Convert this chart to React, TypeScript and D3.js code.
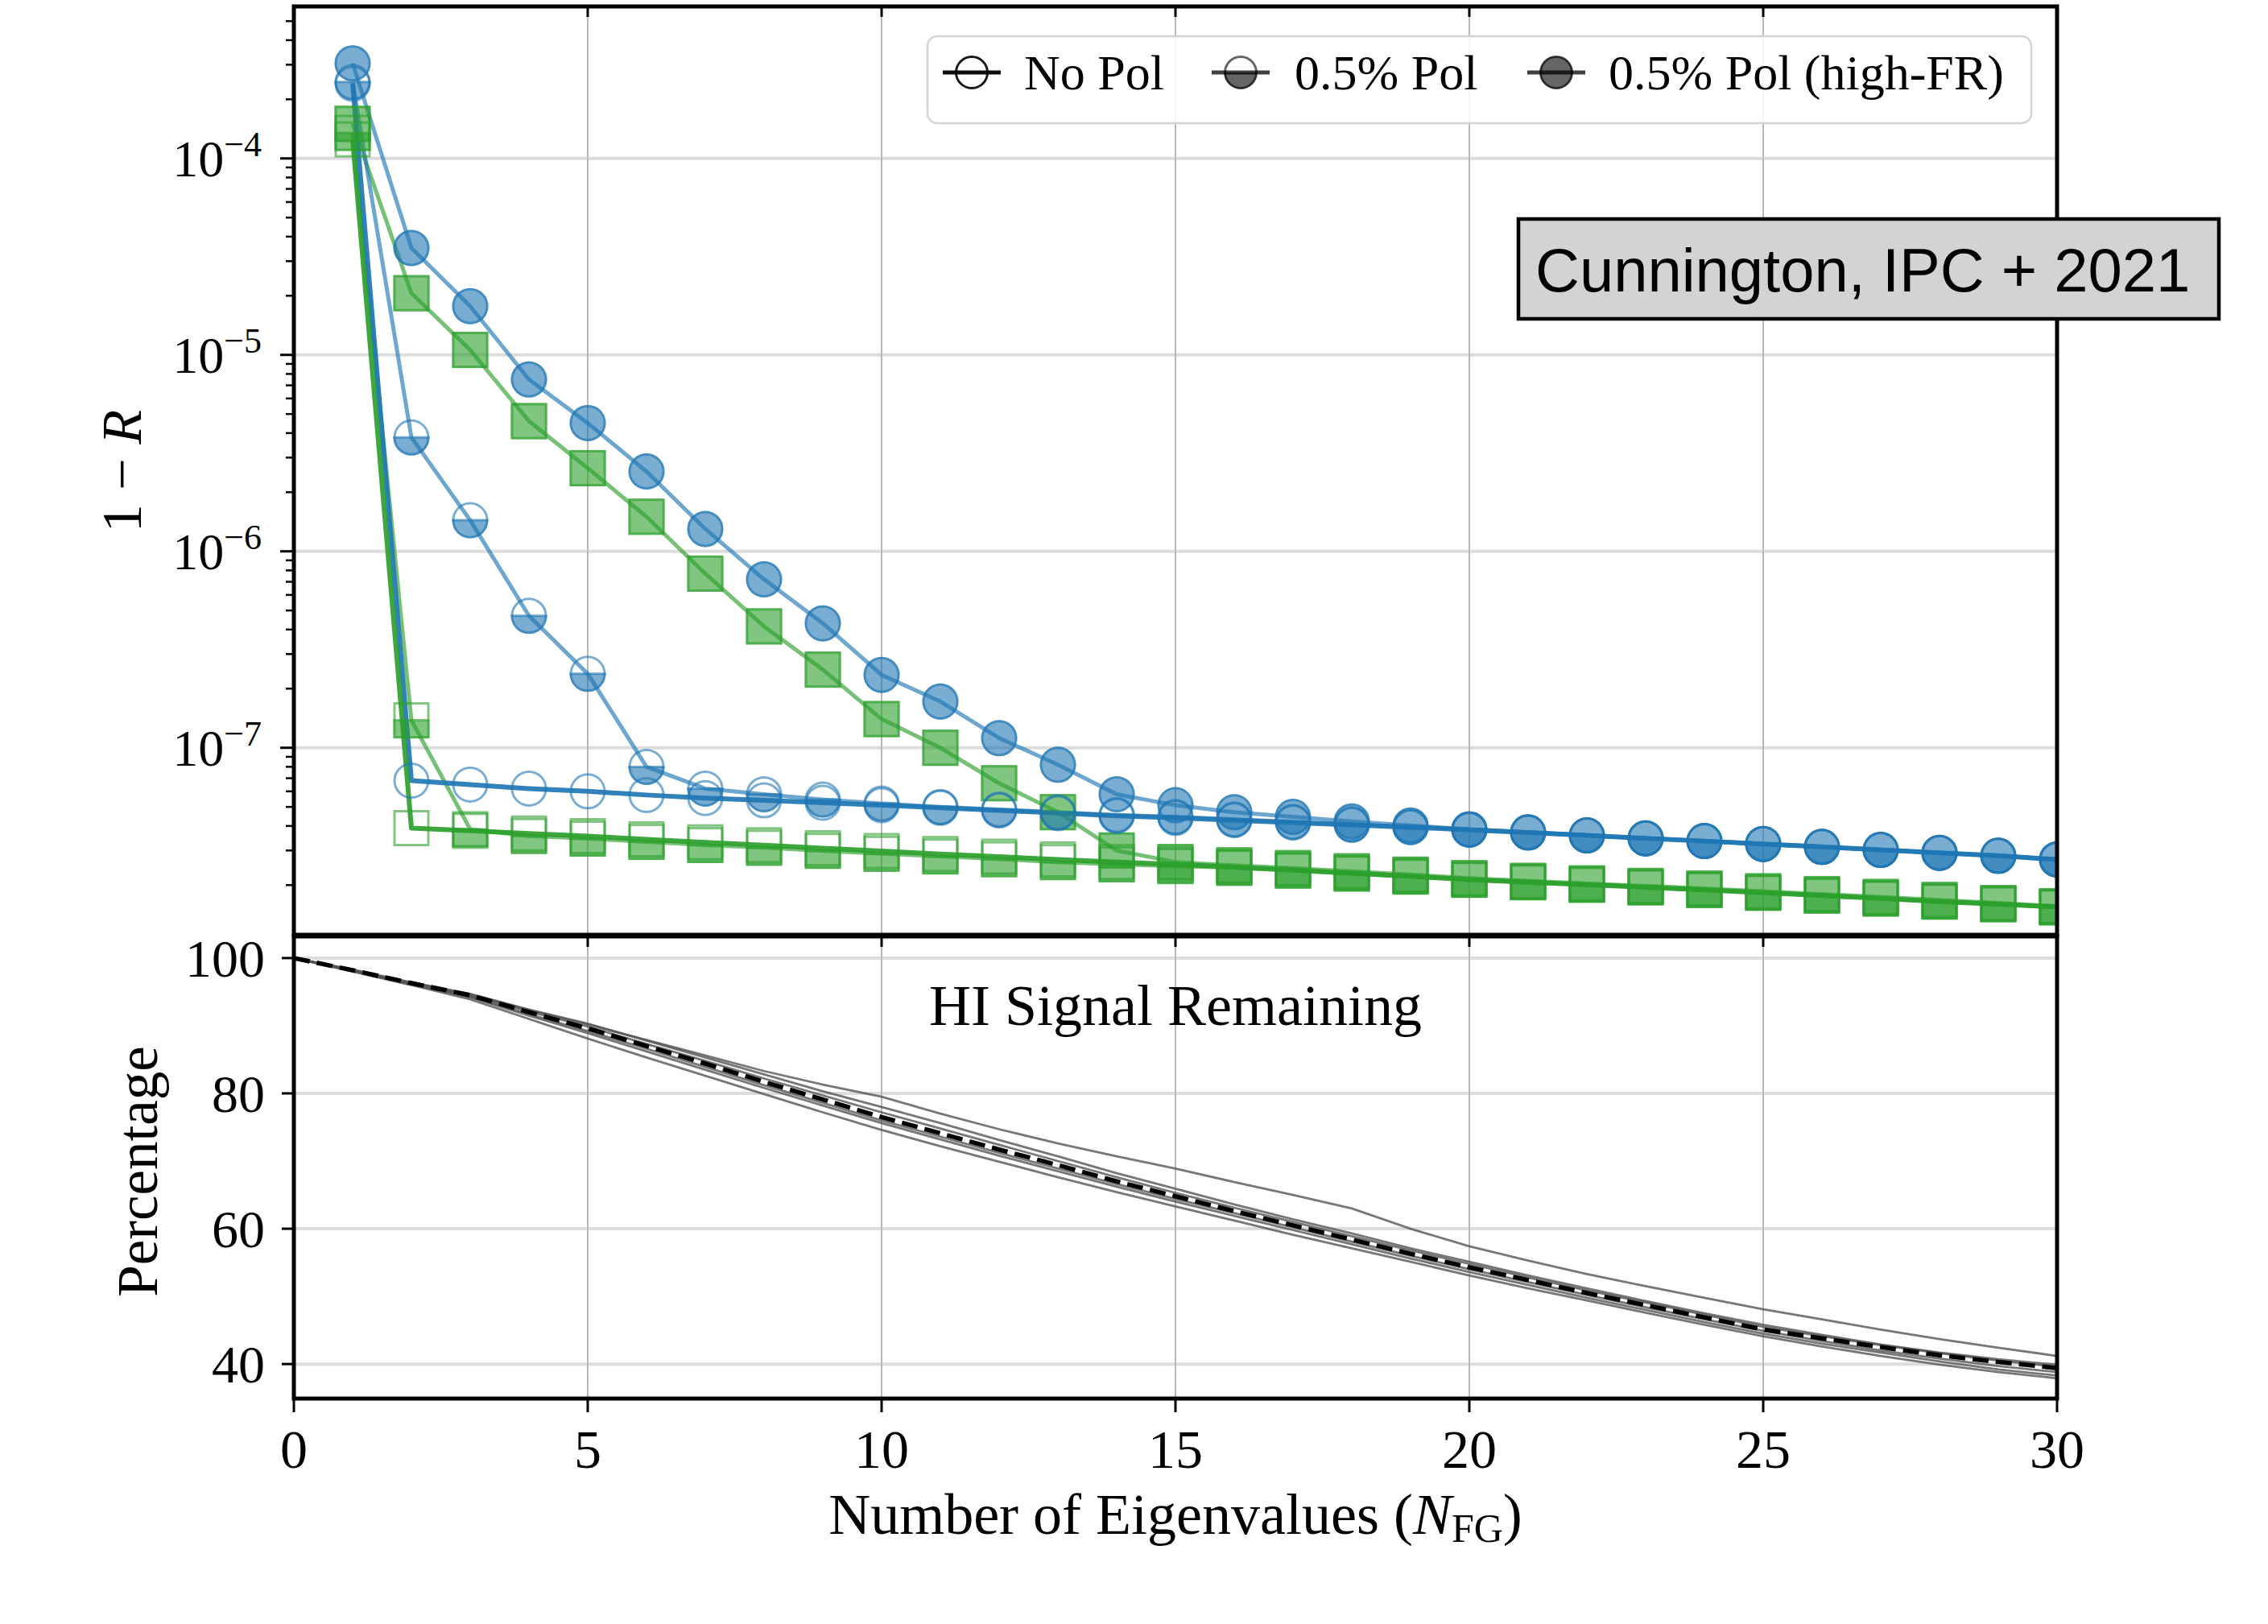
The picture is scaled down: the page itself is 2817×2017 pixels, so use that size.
import React from 'react';
import * as d3 from 'd3';

// ---------- DATA ----------
const nfg = [1,2,3,4,5,6,7,8,9,10,11,12,13,14,15,16,17,18,19,20,21,22,23,24,25,26,27,28,29,30];

const blueNoPol = [2.4e-4, 6.8e-8, 6.5e-8, 6.2e-8, 6.0e-8, 5.75e-8, 5.55e-8, 5.4e-8, 5.25e-8, 5.1e-8, 4.95e-8, 4.8e-8, 4.65e-8, 4.5e-8, 4.4e-8, 4.28e-8, 4.16e-8, 4.05e-8, 3.94e-8, 3.82e-8, 3.7e-8, 3.58e-8, 3.46e-8, 3.35e-8, 3.24e-8, 3.13e-8, 3.02e-8, 2.92e-8, 2.82e-8, 2.7e-8];
const bluePol = [2.45e-4, 3.8e-6, 1.44e-6, 4.7e-7, 2.38e-7, 8.0e-8, 6.2e-8, 5.8e-8, 5.45e-8, 5.2e-8, 5.0e-8, 4.85e-8, 4.7e-8, 4.55e-8, 4.45e-8, 4.32e-8, 4.2e-8, 4.08e-8, 3.96e-8, 3.84e-8, 3.71e-8, 3.58e-8, 3.46e-8, 3.35e-8, 3.24e-8, 3.13e-8, 3.02e-8, 2.92e-8, 2.82e-8, 2.7e-8];
const blueFR = [3.05e-4, 3.5e-5, 1.77e-5, 7.5e-6, 4.5e-6, 2.55e-6, 1.3e-6, 7.2e-7, 4.3e-7, 2.35e-7, 1.72e-7, 1.12e-7, 8.2e-8, 5.8e-8, 5.1e-8, 4.7e-8, 4.45e-8, 4.22e-8, 4.02e-8, 3.85e-8, 3.71e-8, 3.58e-8, 3.46e-8, 3.35e-8, 3.24e-8, 3.13e-8, 3.02e-8, 2.92e-8, 2.82e-8, 2.7e-8];

const greenNoPol = [1.25e-4, 3.9e-8, 3.78e-8, 3.66e-8, 3.55e-8, 3.42e-8, 3.3e-8, 3.19e-8, 3.08e-8, 2.98e-8, 2.88e-8, 2.79e-8, 2.7e-8, 2.62e-8, 2.55e-8, 2.47e-8, 2.39e-8, 2.3e-8, 2.22e-8, 2.13e-8, 2.07e-8, 2.01e-8, 1.95e-8, 1.89e-8, 1.83e-8, 1.77e-8, 1.71e-8, 1.65e-8, 1.6e-8, 1.55e-8];
const greenPol = [1.35e-4, 1.38e-7, 3.85e-8, 3.56e-8, 3.45e-8, 3.32e-8, 3.2e-8, 3.1e-8, 2.99e-8, 2.89e-8, 2.8e-8, 2.71e-8, 2.62e-8, 2.55e-8, 2.5e-8, 2.45e-8, 2.37e-8, 2.29e-8, 2.21e-8, 2.13e-8, 2.07e-8, 2.01e-8, 1.95e-8, 1.89e-8, 1.83e-8, 1.77e-8, 1.71e-8, 1.65e-8, 1.6e-8, 1.54e-8];
const greenFR = [1.5e-4, 2.06e-5, 1.06e-5, 4.6e-6, 2.65e-6, 1.5e-6, 7.7e-7, 4.15e-7, 2.5e-7, 1.4e-7, 1.0e-7, 6.6e-8, 4.7e-8, 3.0e-8, 2.62e-8, 2.52e-8, 2.44e-8, 2.35e-8, 2.26e-8, 2.17e-8, 2.1e-8, 2.04e-8, 1.98e-8, 1.92e-8, 1.86e-8, 1.8e-8, 1.74e-8, 1.68e-8, 1.62e-8, 1.56e-8];

const nfgRemain = [0,1,2,3,4,5,6,7,8,9,10,11,12,13,14,15,16,17,18,19,20,21,22,23,24,25,26,27,28,29,30];
const hiMean = [100, 98.2, 96.3, 94.5, 92.0, 89.6, 87.0, 84.4, 81.7, 79.1, 76.5, 74.1, 71.7, 69.4, 67.0, 64.8, 62.6, 60.5, 58.4, 56.3, 54.3, 52.4, 50.5, 48.7, 46.9, 45.1, 43.8, 42.5, 41.3, 40.3, 39.4];
const hiSim1 = [100, 98.2, 96.3, 94.6, 92.3, 90.2, 87.9, 85.6, 83.3, 81.3, 79.5, 77.0, 74.7, 72.6, 70.7, 68.9, 66.9, 65.0, 63.0, 60.0, 57.4, 55.3, 53.3, 51.5, 49.8, 48.1, 46.6, 45.1, 43.7, 42.4, 41.2];
const hiSim2 = [100, 98.3, 96.4, 94.7, 92.4, 90.3, 87.8, 85.3, 82.8, 80.3, 78.0, 75.6, 73.1, 70.7, 68.2, 65.9, 63.6, 61.4, 59.3, 57.1, 55.1, 53.1, 51.2, 49.3, 47.5, 45.8, 44.3, 42.9, 41.7, 40.7, 39.9];
const hiSim3 = [100, 98.2, 96.3, 94.5, 92.1, 89.9, 87.3, 84.8, 82.2, 79.7, 77.2, 74.8, 72.4, 70.0, 67.6, 65.3, 63.1, 61.0, 58.9, 56.8, 54.8, 52.8, 50.9, 49.1, 47.3, 45.5, 44.1, 42.8, 41.6, 40.5, 39.6];
const hiSim4 = [100, 98.1, 96.1, 94.2, 91.5, 88.9, 86.2, 83.5, 80.8, 78.2, 75.6, 73.2, 70.8, 68.5, 66.2, 64.0, 61.9, 59.8, 57.7, 55.6, 53.6, 51.7, 49.8, 48.0, 46.2, 44.5, 43.0, 41.7, 40.4, 39.2, 38.3];
const hiSim5 = [100, 98.0, 96.0, 93.9, 91.0, 88.1, 85.3, 82.6, 79.9, 77.2, 74.6, 72.2, 69.9, 67.6, 65.4, 63.3, 61.2, 59.1, 57.1, 55.1, 53.1, 51.2, 49.4, 47.6, 45.8, 44.1, 42.6, 41.2, 39.9, 38.8, 37.9];
const hiSim6 = [100, 98.1, 96.2, 94.3, 91.7, 89.2, 86.6, 83.9, 81.2, 78.6, 76.0, 73.6, 71.2, 68.9, 66.6, 64.4, 62.3, 60.2, 58.1, 56.0, 54.0, 52.1, 50.2, 48.4, 46.6, 44.9, 43.4, 42.0, 40.8, 39.7, 38.8];

const xTickValues = [0, 5, 10, 15, 20, 25, 30];
const topMajorTicks = [1e-4, 1e-5, 1e-6, 1e-7];
const topMajorExp = ['−4', '−5', '−6', '−7'];
const botTickValues = [40, 60, 80, 100];
const legendLabels = ['No Pol', '0.5% Pol', '0.5% Pol (high-FR)'];

const BLUE = '#1f77b4';
const GREEN = '#2ca02c';

// ---------- LAYOUT ----------
const L = 365, R = 2555;
const TT = 8, TB = 1161;
const BT = 1163, BB = 1737;

const x = d3.scaleLinear().domain([0, 30]).range([L, R]);
const yTop = d3.scaleLog().domain([1.117e-8, 5.94e-4]).range([TB, TT]);
const yBot = d3.scaleLinear().domain([34.9, 103.2]).range([BB, BT]);

const serif = '"Liberation Serif", "DejaVu Serif", serif';
const MR = 22.5;

type Kind = 'open' | 'half' | 'full';

function Marker({ cx, cy, shape, kind, color }: { cx: number; cy: number; shape: 'circle' | 'square'; kind: Kind; color: string }) {
  const op = 0.6;
  const sw = 3;
  if (shape === 'circle') {
    return (
      <g>
        {kind === 'full' && <circle cx={cx} cy={cy} r={MR} fill={color} fillOpacity={op} />}
        {kind === 'half' && (
          <path d={`M${cx - MR},${cy} A${MR},${MR} 0 0 0 ${cx + MR},${cy} Z`} fill={color} fillOpacity={op} />
        )}
        <circle cx={cx} cy={cy} r={MR - sw / 2} fill="none" stroke={color} strokeOpacity={op} strokeWidth={sw} />
        {kind === 'half' && (
          <line x1={cx - MR} x2={cx + MR} y1={cy} y2={cy} stroke={color} strokeOpacity={op} strokeWidth={sw} />
        )}
      </g>
    );
  }
  return (
    <g>
      {kind === 'full' && <rect x={cx - MR} y={cy - MR} width={2 * MR} height={2 * MR} fill={color} fillOpacity={op} />}
      {kind === 'half' && <rect x={cx - MR} y={cy} width={2 * MR} height={MR} fill={color} fillOpacity={op} />}
      <rect x={cx - MR + sw / 2} y={cy - MR + sw / 2} width={2 * MR - sw} height={2 * MR - sw} fill="none" stroke={color} strokeOpacity={op} strokeWidth={sw} />
      {kind === 'half' && (
        <line x1={cx - MR} x2={cx + MR} y1={cy} y2={cy} stroke={color} strokeOpacity={op} strokeWidth={sw} />
      )}
    </g>
  );
}

const lineTop = d3.line<number>().x((_, i) => x(nfg[i])).y((d) => yTop(d));
const lineBot = d3.line<number>().x((_, i) => x(nfgRemain[i])).y((d) => yBot(d));

type Series = { vals: number[]; color: string; shape: 'circle' | 'square'; kind: Kind; lineOp: number; lw: number };
const series: Series[] = [
  { vals: blueFR, color: BLUE, shape: 'circle', kind: 'full', lineOp: 0.65, lw: 5 },
  { vals: greenFR, color: GREEN, shape: 'square', kind: 'full', lineOp: 0.65, lw: 5 },
  { vals: bluePol, color: BLUE, shape: 'circle', kind: 'half', lineOp: 0.65, lw: 5 },
  { vals: greenPol, color: GREEN, shape: 'square', kind: 'half', lineOp: 0.65, lw: 5 },
  { vals: blueNoPol, color: BLUE, shape: 'circle', kind: 'open', lineOp: 0.92, lw: 6 },
  { vals: greenNoPol, color: GREEN, shape: 'square', kind: 'open', lineOp: 0.92, lw: 6 },
];

const hiSims = [hiSim1, hiSim2, hiSim3, hiSim4, hiSim5, hiSim6];

export default function App() {
  const topMinor = yTop.ticks().filter((v) => Math.abs(Math.log10(v) - Math.round(Math.log10(v))) > 1e-6);
  const legendX = [1207, 1541, 1933];
  const legendTextX = [1272, 1608, 1998];
  const legendKinds: Kind[] = ['open', 'half', 'full'];
  return (
    <svg width={2817} height={2017} style={{ position: 'absolute', left: 0, top: 0, background: '#fff' }}>
      <defs>
        <clipPath id="clipTop"><rect x={L} y={TT} width={R - L} height={TB - TT} /></clipPath>
        <clipPath id="clipBot"><rect x={L} y={BT} width={R - L} height={BB - BT} /></clipPath>
      </defs>
      <rect x={0} y={0} width={2817} height={2017} fill="#fff" />

      {/* ---------- TOP PANEL ---------- */}
      <g>
        {topMajorTicks.map((v) => (
          <line key={'hg' + v} x1={L} x2={R} y1={yTop(v)} y2={yTop(v)} stroke="#dcdcdc" strokeWidth={4} />
        ))}
        {xTickValues.slice(1, -1).map((v) => (
          <line key={'vg' + v} x1={x(v)} x2={x(v)} y1={TT} y2={TB} stroke="#b8b8b8" strokeWidth={2} />
        ))}
      </g>
      <g clipPath="url(#clipTop)">
        {series.map((s, si) => (
          <path key={'l' + si} d={lineTop(s.vals) || ''} fill="none" stroke={s.color} strokeOpacity={s.lineOp} strokeWidth={s.lw} strokeLinejoin="round" />
        ))}
        {series.map((s, si) => (
          <g key={'m' + si}>
            {s.vals.map((v, i) => (
              <Marker key={i} cx={x(nfg[i])} cy={yTop(v)} shape={s.shape} kind={s.kind} color={s.color} />
            ))}
          </g>
        ))}
      </g>
      {/* top spines */}
      <rect x={L} y={TT} width={R - L} height={TB - TT} fill="none" stroke="#000" strokeWidth={5} />
      {xTickValues.slice(1, -1).map((v) => (
        <line key={'tt' + v} x1={x(v)} x2={x(v)} y1={TT} y2={TT + 13} stroke="#000" strokeWidth={3} />
      ))}
      {topMajorTicks.map((v) => (
        <line key={'ymaj' + v} x1={L - 17} x2={L} y1={yTop(v)} y2={yTop(v)} stroke="#000" strokeWidth={3} />
      ))}
      {topMinor.map((v) => (
        <line key={'ymin' + v} x1={L - 10} x2={L} y1={yTop(v)} y2={yTop(v)} stroke="#000" strokeWidth={2.5} />
      ))}
      {topMajorTicks.map((v, i) => (
        <text key={'yl' + v} x={325} y={yTop(v) + 22} textAnchor="end" fontFamily={serif} fontSize={64} fill="#000">
          10<tspan dy={-25} fontSize={44}>{topMajorExp[i]}</tspan>
        </text>
      ))}
      <text transform={`translate(175,585) rotate(-90)`} textAnchor="middle" fontFamily={serif} fontSize={70} fill="#000">
        1 − <tspan fontStyle="italic">R</tspan>
      </text>

      {/* legend */}
      <rect x={1152} y={45} width={1371} height={108} rx={12} fill="#fff" fillOpacity={0.85} stroke="#d4d4d4" strokeWidth={2.5} />
      {legendLabels.map((lab, i) => {
        const cx = legendX[i];
        const cy = 90;
        const k = legendKinds[i];
        return (
          <g key={'lg' + i}>
            <line x1={cx - 36} x2={cx + 36} y1={cy} y2={cy} stroke="#000" strokeOpacity={k === 'open' ? 0.95 : 0.75} strokeWidth={5} />
            {k === 'full' && <circle cx={cx} cy={cy} r={MR - 2} fill="#000" fillOpacity={0.6} />}
            {k === 'half' && <path d={`M${cx - MR + 2},${cy} A${MR - 2},${MR - 2} 0 0 0 ${cx + MR - 2},${cy} Z`} fill="#000" fillOpacity={0.6} />}
            <circle cx={cx} cy={cy} r={MR - 3} fill="none" stroke="#000" strokeOpacity={k === 'open' ? 0.9 : 0.6} strokeWidth={3} />
            <text x={legendTextX[i]} y={111} fontFamily={serif} fontSize={62} fill="#000">{lab}</text>
          </g>
        );
      })}

      {/* annotation */}
      <rect x={1886} y={272} width={870} height={124} fill="#d3d3d3" stroke="#000" strokeWidth={4.5} />
      <text x={1907} y={362} fontFamily='"Liberation Sans", Arial, sans-serif' fontSize={76} fill="#000">Cunnington, IPC + 2021</text>

      {/* ---------- BOTTOM PANEL ---------- */}
      <g>
        {botTickValues.map((v) => (
          <line key={'bhg' + v} x1={L} x2={R} y1={yBot(v)} y2={yBot(v)} stroke="#dcdcdc" strokeWidth={4} />
        ))}
        {xTickValues.slice(1, -1).map((v) => (
          <line key={'bvg' + v} x1={x(v)} x2={x(v)} y1={BT} y2={BB} stroke="#b8b8b8" strokeWidth={2} />
        ))}
      </g>
      <g clipPath="url(#clipBot)">
        {hiSims.map((s, i) => (
          <path key={'hs' + i} d={lineBot(s) || ''} fill="none" stroke="#555" strokeOpacity={0.8} strokeWidth={2.8} />
        ))}
        <path d={lineBot(hiMean) || ''} fill="none" stroke="#000" strokeWidth={5.5} strokeDasharray="20 9" />
      </g>
      <text x={1460} y={1273} textAnchor="middle" fontFamily={serif} fontSize={72} fill="#000">HI Signal Remaining</text>
      <rect x={L} y={BT} width={R - L} height={BB - BT} fill="none" stroke="#000" strokeWidth={5} />
      {xTickValues.slice(1, -1).map((v) => (
        <line key={'bt' + v} x1={x(v)} x2={x(v)} y1={BT} y2={BT + 13} stroke="#000" strokeWidth={3} />
      ))}
      {xTickValues.map((v) => (
        <line key={'bb' + v} x1={x(v)} x2={x(v)} y1={BB} y2={BB + 17} stroke="#000" strokeWidth={3} />
      ))}
      {botTickValues.map((v) => (
        <line key={'by' + v} x1={L - 15} x2={L} y1={yBot(v)} y2={yBot(v)} stroke="#000" strokeWidth={3} />
      ))}
      {botTickValues.map((v) => (
        <text key={'byl' + v} x={329} y={yBot(v) + 23} textAnchor="end" fontFamily={serif} fontSize={66} fill="#000">{v}</text>
      ))}
      {xTickValues.map((v) => (
        <text key={'bxl' + v} x={x(v)} y={1823} textAnchor="middle" fontFamily={serif} fontSize={68} fill="#000">{v}</text>
      ))}
      <text transform={`translate(195,1455) rotate(-90)`} textAnchor="middle" fontFamily={serif} fontSize={71} fill="#000">Percentage</text>
      <text x={1460} y={1905} textAnchor="middle" fontFamily={serif} fontSize={72} fill="#000">
        Number of Eigenvalues (<tspan fontStyle="italic">N</tspan><tspan fontSize={50} dy={10}>FG</tspan><tspan dy={-10}>)</tspan>
      </text>
    </svg>
  );
}
